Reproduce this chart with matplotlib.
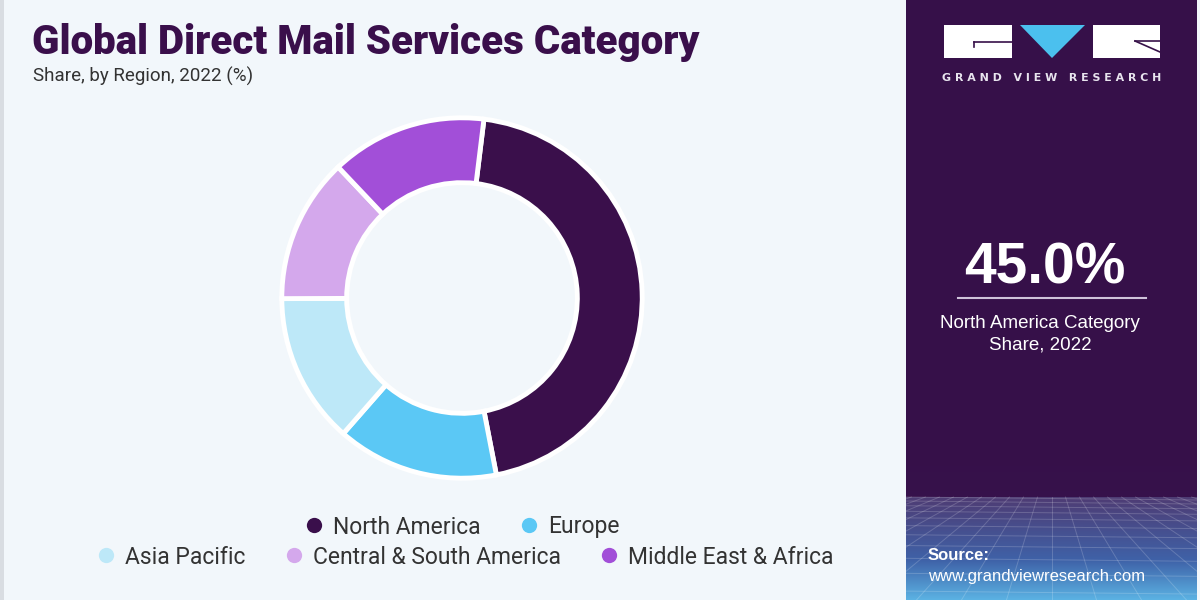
import numpy as np
import matplotlib
matplotlib.use("Agg")
import matplotlib.pyplot as plt
from matplotlib.lines import Line2D
from matplotlib.patches import Rectangle, Polygon

# ---- data ----
regions = ["North America", "Europe", "Asia Pacific", "Central & South America", "Middle East & Africa"]
shares = [45.0, 14.5, 13.5, 13.0, 14.0]
colors = ["#3A0F4B", "#5BC8F5", "#BDE8F8", "#D4A8EC", "#A24FD8"]
highlight_value = "45.0%"
highlight_label = "North America Category\nShare, 2022"
title = "Global Direct Mail Services Category"
subtitle = "Share, by Region, 2022 (%)"

W, H = 1200, 600
fig = plt.figure(figsize=(12, 6), dpi=100)
fig.patch.set_facecolor("#F2F7FB")

def fx(x):
    return x / W

def fy(y):
    return 1 - y / H

# thin left strip
fig.patches.append(Rectangle((0, 0), fx(4), 1, transform=fig.transFigure,
                             facecolor="#D9DDE2", edgecolor="none", zorder=0))

# ---- right panel ----
px0, px1 = 906, 1197
pw = px1 - px0
pax = fig.add_axes([fx(px0), 0, fx(pw), 1])
pax.set_xlim(0, pw)
pax.set_ylim(H, 0)
pax.axis("off")
grad = np.zeros((H, 1, 3))
top = np.array([0x36, 0x10, 0x49]) / 255
c1 = np.array([0x4E, 0x3C, 0x74]) / 255
c2 = np.array([0x3F, 0x62, 0xA8]) / 255
c3 = np.array([0x5C, 0xB4, 0xE4]) / 255
for i in range(H):
    if i < 497:
        t = max(0, (i - 440) / 57)
        col = top * (1 - 0.15 * t) + np.array([0x3C, 0x1C, 0x58]) / 255 * 0.15 * t
    elif i < 560:
        t = (i - 497) / 63
        col = c1 * (1 - t) + c2 * t
    else:
        t = (i - 560) / 40
        col = c2 * (1 - t) + c3 * t
    grad[i, 0] = col
pax.imshow(grad, extent=[0, pw, H, 0], aspect="auto", zorder=0)
# perspective grid
for k in range(-12, 26):
    x_top = pw / 2 + (k - 7) * 14
    x_bot = pw / 2 + (k - 7) * 45
    pax.plot([x_top, x_bot], [497, 600], color="white", alpha=0.18, lw=0.7, zorder=1)
y = 497.0
step = 4.0
while y < 600:
    pax.plot([0, pw], [y, y + 3], color="white", alpha=0.18, lw=0.7, zorder=1)
    y += step
    step *= 1.18

# logo
pax.add_patch(Rectangle((944 - px0, 25), 68, 33, facecolor="white", edgecolor="none", zorder=2))
pax.add_patch(Polygon([(1020 - px0, 25), (1085 - px0, 25), (1052 - px0, 58)],
                      closed=True, facecolor="#4BC0EE", edgecolor="none", zorder=2))
pax.add_patch(Rectangle((1093 - px0, 25), 67, 33, facecolor="white", edgecolor="none", zorder=2))
pax.plot([974 - px0, 1012 - px0], [42, 42], color="#371149", lw=1.2, zorder=3)
pax.plot([974 - px0, 974 - px0], [42, 47], color="#371149", lw=1.2, zorder=3)
pax.plot([1135 - px0, 1160 - px0], [41, 41], color="#371149", lw=1.2, zorder=3)
pax.plot([1135 - px0, 1160 - px0], [41, 52], color="#371149", lw=1.2, zorder=3)
fig.text(fx(1052), fy(78), "G R A N D   V I E W   R E S E A R C H", color="#E8E4EE",
         fontsize=7.9, fontweight="bold", ha="center", va="center",
         family="DejaVu Sans")

# highlight
fig.text(fx(1045), fy(268), highlight_value, color="white", fontsize=41,
         fontweight="bold", ha="center", va="center", family="Liberation Sans")
fig.lines.append(Line2D([fx(958), fx(1146)], [fy(298), fy(298)], transform=fig.transFigure,
                        color="#CFC3DA", lw=1.5))
fig.text(fx(1040), fy(334), highlight_label, color="white", fontsize=13.5,
         ha="center", va="center", linespacing=1.35, family="Liberation Sans")

# source
fig.text(fx(928), fy(555), "Source:", color="white", fontsize=12, fontweight="bold",
         ha="left", va="center", family="Liberation Sans")
fig.text(fx(928), fy(577), "www.grandviewresearch.com", color="white", fontsize=12,
         ha="left", va="center", family="Liberation Sans")

# ---- titles ----
fig.text(fx(32), fy(42), title, color="#3A0F4B", fontsize=29, fontweight=900,
         ha="left", va="center", family="Roboto")
fig.text(fx(33), fy(76), subtitle, color="#333333", fontsize=13.5,
         ha="left", va="center", family="Roboto")

# ---- donut ----
cx, cy, r = 462, 298, 182
ax = fig.add_axes([fx(cx - r), fy(cy + r), fx(2 * r), 2 * r / H])
ax.pie(shares, colors=colors, startangle=83, counterclock=False, radius=1.0,
       wedgeprops=dict(width=0.36, edgecolor="white", linewidth=3.5))
ax.set_xlim(-1.01, 1.01)
ax.set_ylim(-1.01, 1.01)
ax.set_aspect("equal")
ax.axis("off")

# ---- legend ----
def handle(c):
    return Line2D([], [], marker="o", linestyle="none", markersize=11,
                  markerfacecolor=c, markeredgecolor="none")

leg_kw = dict(frameon=False, handlelength=1.0, handletextpad=0.33, columnspacing=1.6,
              prop={"family": "Roboto", "size": 16.5})
l1 = fig.legend([handle(c) for c in colors[:2]], regions[:2], ncol=2,
                loc="center", bbox_to_anchor=(fx(461), fy(527)), **leg_kw)
l2 = fig.legend([handle(c) for c in colors[2:]], regions[2:], ncol=3,
                loc="center", bbox_to_anchor=(fx(464), fy(557)), **leg_kw)
for lg in (l1, l2):
    for t in lg.get_texts():
        t.set_color("#333333")

fig.savefig("out.png", dpi=100, facecolor=fig.get_facecolor())
